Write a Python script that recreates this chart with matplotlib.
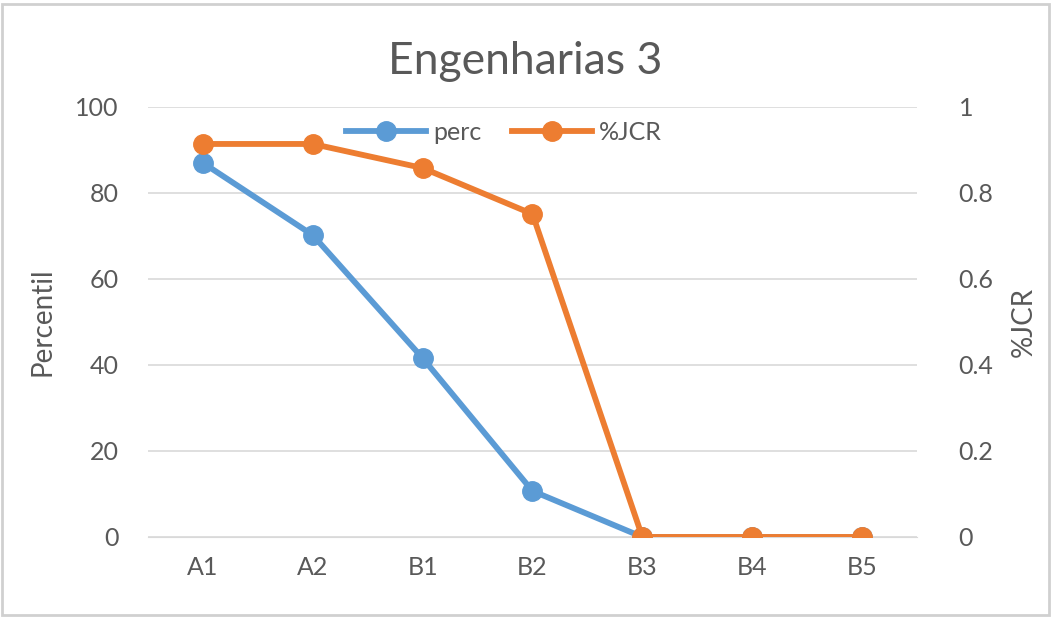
import matplotlib
matplotlib.use("Agg")
import matplotlib.pyplot as plt
from matplotlib.patches import Rectangle

categories = ["A1", "A2", "B1", "B2", "B3", "B4", "B5"]
perc = [87, 70.2, 41.6, 10.7, 0, 0, 0]
jcr = [0.914, 0.914, 0.858, 0.751, 0, 0, 0]
left_ticks = [0, 20, 40, 60, 80, 100]
right_ticks = [0, 0.2, 0.4, 0.6, 0.8, 1]
right_labels = ["0", "0.2", "0.4", "0.6", "0.8", "1"]

plt.rcParams['font.family'] = ['Lato', 'DejaVu Sans']
txt = "#595959"
blue = "#5B9BD5"
orange = "#ED7D31"

fig = plt.figure(figsize=(10.51, 6.17), dpi=100)
ax = fig.add_axes([0.1408, 0.1297, 0.7317, 0.6969])
ax2 = ax.twinx()

x = list(range(len(categories)))
lp, = ax.plot(x, perc, color=blue, lw=4.2, marker='o', ms=14, label="perc", zorder=3)
lj, = ax2.plot(x, jcr, color=orange, lw=4.2, marker='o', ms=14, label="%JCR", zorder=3)

ax.set_xlim(-0.5, 6.5)
ax.set_ylim(0, 100)
ax2.set_ylim(0, 1)
ax.set_yticks(left_ticks)
ax2.set_yticks(right_ticks)
ax2.set_yticklabels(right_labels)
ax.set_xticks(x)
ax.set_xticklabels(categories)

ax.grid(axis='y', color="#D9D9D9", lw=1.2)
ax.set_axisbelow(True)
for a in (ax, ax2):
    for s in a.spines.values():
        s.set_visible(False)
    a.tick_params(length=0, labelsize=18, labelcolor=txt)
ax.spines['bottom'].set_visible(True)
ax.spines['bottom'].set_color("#D9D9D9")
ax.tick_params(axis='x', pad=14)
ax.tick_params(axis='y', pad=21)
ax2.tick_params(axis='y', pad=30)

ax.set_ylabel("Percentil", fontsize=20, color=txt, labelpad=14)
ax2.set_ylabel("%JCR", fontsize=20, color=txt, labelpad=12)

fig.text(0.5, 0.9, "Engenharias 3", ha='center', va='center', fontsize=32, color=txt)

leg = ax.legend(handles=[lp, lj], loc='upper center', bbox_to_anchor=(0.463, 1.02), ncol=2,
                frameon=False, fontsize=18, handlelength=3.2, columnspacing=1.2,
                handletextpad=0.3, labelcolor=txt)

fig.patches.append(Rectangle((0.002, 0.004), 0.996, 0.99, transform=fig.transFigure,
                             fill=False, edgecolor="#D0D0D0", lw=2))

fig.savefig("out.png", dpi=100)
